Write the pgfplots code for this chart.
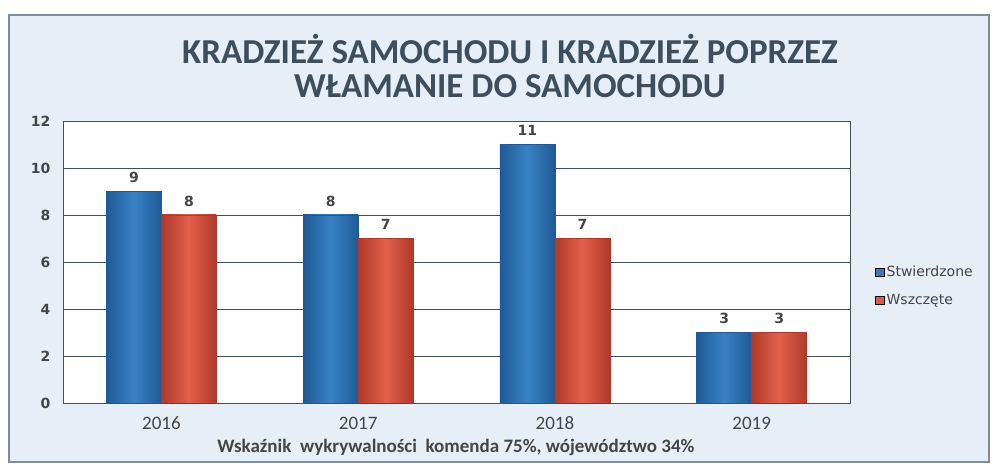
\documentclass[border=0pt]{standalone}
\usepackage{pgfplots}
\pgfplotsset{compat=1.18}
\usepackage{fontspec}
\setmainfont{Carlito}
\newfontfamily\dejavu{DejaVu Sans}

\definecolor{bgblue}{HTML}{E6EFF7}
\definecolor{framec}{HTML}{7F8C99}
\definecolor{gridc}{HTML}{3F4F66}
\definecolor{titlec}{HTML}{3E4E5C}
\definecolor{txt}{HTML}{454545}
\definecolor{blueA}{HTML}{1F5A96}
\definecolor{blueB}{HTML}{3A82C4}
\definecolor{redA}{HTML}{B0382A}
\definecolor{redB}{HTML}{E2614C}

\pgfplotsset{
  bluebar/.style={draw=blueA, left color=blueA, right color=blueA, middle color=blueB, bar shift=-27.5pt, forget plot},
  redbar/.style={draw=redA, left color=redA, right color=redA, middle color=redB, bar shift=27.5pt, forget plot},
}

\begin{document}
\begin{tikzpicture}[x=1pt,y=1pt]
\useasboundingbox (0,0) rectangle (995,470);
\fill[white] (0,0) rectangle (995,470);
\draw[framec, line width=2pt, fill=bgblue] (9,8) rectangle (989,455);

% title
\node[font=\bfseries\fontsize{35}{34}\selectfont, text=titlec, align=center]
  at (510,404) {KRADZIEŻ SAMOCHODU I KRADZIEŻ POPRZEZ\\WŁAMANIE DO SAMOCHODU};

\begin{axis}[
    at={(63pt,67pt)}, anchor=south west,
    scale only axis, width=787pt, height=282pt,
    xmin=-0.5, xmax=3.5, ymin=0, ymax=12,
    ytick={0,2,...,12}, xtick={0,1,2,3},
    xticklabels={2016,2017,2018,2019},
    ymajorgrids, grid style={gridc, line width=0.9pt},
    axis line style={gridc, line width=0.9pt},
    axis background/.style={fill=white},
    tick style={draw=none},
    /pgf/number format/assume math mode=true,
    yticklabel style={font=\dejavu\bfseries\fontsize{14}{14}\selectfont, text=txt, xshift=-9pt},
    xticklabel style={font=\fontsize{19}{19}\selectfont, text=txt, yshift=-6pt},
    ybar, bar width=55pt,
    nodes near coords,
    nodes near coords style={font=\dejavu\bfseries\fontsize{14}{14}\selectfont, text=txt, yshift=5pt},
    legend style={at={(1.028,0.415)}, anchor=west, draw=none, fill=none,
        font=\dejavu\fontsize{14}{14}\selectfont, text=txt, row sep=12pt},
    legend cell align=left,
    legend image code/.code={\fill[#1] (0pt,-4pt) rectangle (9pt,4pt);},
]
% Stwierdzone
\addplot[bluebar] coordinates {(0,9)};
\addplot[bluebar] coordinates {(1,8)};
\addplot[bluebar] coordinates {(2,11)};
\addplot[bluebar] coordinates {(3,3)};
% Wszczete
\addplot[redbar] coordinates {(0,8)};
\addplot[redbar] coordinates {(1,7)};
\addplot[redbar] coordinates {(2,7)};
\addplot[redbar] coordinates {(3,3)};
\addlegendimage{fill=blueB!85!blueA}
\addlegendentry{Stwierdzone}
\addlegendimage{fill=redB!85!redA}
\addlegendentry{Wszczęte}
\end{axis}

% footnote
\node[font=\bfseries\fontsize{19}{19}\selectfont, text=txt] at (456,23)
  {Wskaźnik\ \ wykrywalności\ \ komenda 75\%, wójewództwo 34\%};
\end{tikzpicture}
\end{document}
